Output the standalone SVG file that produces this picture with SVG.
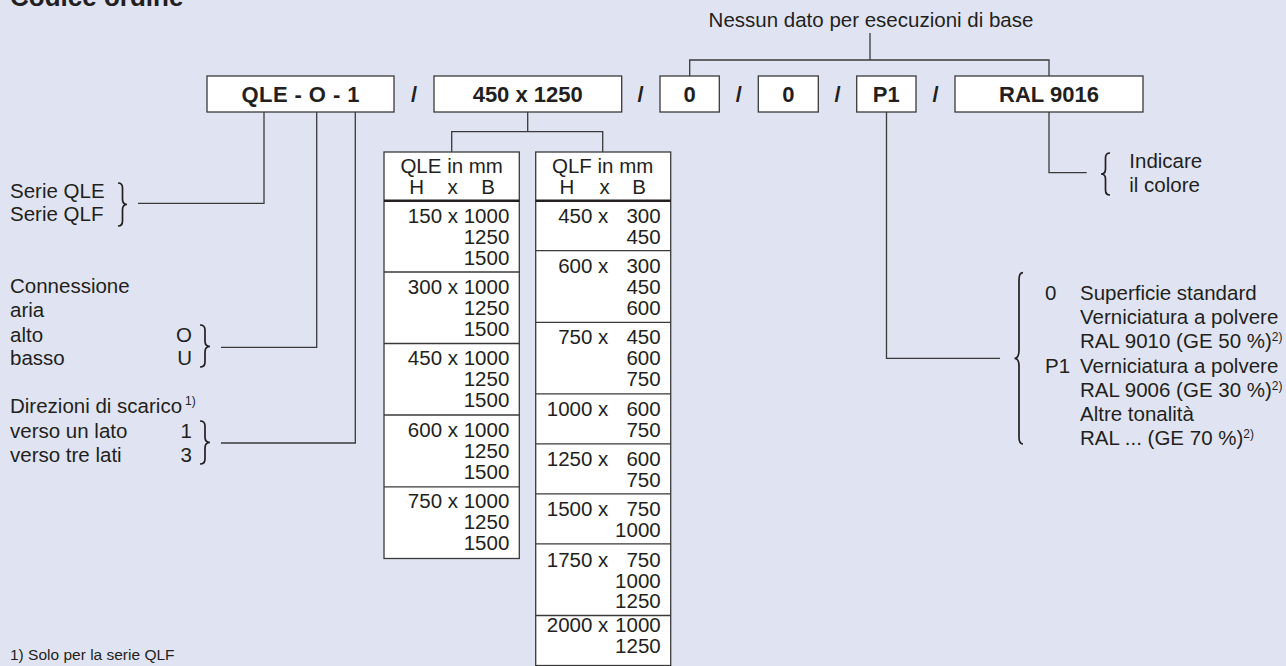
<svg xmlns="http://www.w3.org/2000/svg" width="1286" height="666" viewBox="0 0 1286 666">
<style>
text{font-family:"Liberation Sans",Arial,Helvetica,sans-serif;fill:#231f20}
.t{font-size:20.5px}
.b{font-size:22px;font-weight:bold;text-anchor:middle}
.e{text-anchor:end}
.m{text-anchor:middle}
.ln{fill:none;stroke:#3a3a3a;stroke-width:1.3}
.box{fill:#fff;stroke:#3a3a3a;stroke-width:1.3}
.sep{stroke:#3a3a3a;stroke-width:1.3}
.hsep{stroke:#231f20;stroke-width:2.4}
.br{fill:none;stroke:#231f20;stroke-width:1.7}
</style>
<rect width="1286" height="666" fill="#e0e4f2"/>
<text x="10" y="6" font-size="26" font-weight="bold">Codice ordine</text>
<text class="t m" x="871" y="27" font-size="21">Nessun dato per esecuzioni di base</text>

<g id="connectors" class="ln">
<path d="M264 112V203.3H138"/>
<path d="M316.7 112V347.3H221"/>
<path d="M355.3 112V443H221"/>
<path d="M527.7 112V131.7M451.7 152V131.7H602.7V152"/>
<path d="M870 33V60M689.7 76V60H1049V76"/>
<path d="M886.5 112V358.3H1000"/>
<path d="M1049 112V172.7H1086.7"/>
</g>

<g id="code">
<rect class="box" x="207" y="76" width="187" height="36"/>
<text class="b" x="300.5" y="102" textLength="118" lengthAdjust="spacing">QLE - O - 1</text>
<text class="b" x="414" y="102">/</text>
<rect class="box" x="434" y="76" width="187.7" height="36"/>
<text class="b" x="527.7" y="102">450 x 1250</text>
<text class="b" x="640.5" y="102">/</text>
<rect class="box" x="660" y="76" width="59.3" height="36"/>
<text class="b" x="689.7" y="102">0</text>
<text class="b" x="738.8" y="102">/</text>
<rect class="box" x="758.3" y="76" width="60" height="36"/>
<text class="b" x="788.3" y="102">0</text>
<text class="b" x="837.5" y="102">/</text>
<rect class="box" x="856.7" y="76" width="59.3" height="36"/>
<text class="b" x="886.3" y="102">P1</text>
<text class="b" x="935.5" y="102">/</text>
<rect class="box" x="955" y="76" width="188" height="36"/>
<text class="b" x="1049" y="102">RAL 9016</text>
</g>

<g id="serie">
<text class="t" x="10" y="198.3">Serie QLE</text>
<text class="t" x="10" y="221">Serie QLF</text>
<path class="br" d="M118 183Q122.5 183 122.5 188V199Q122.5 204.5 127 204.5Q122.5 204.5 122.5 210V221Q122.5 226 118 226"/>
</g>

<g id="connessione">
<text class="t" x="10" y="293.3">Connessione</text>
<text class="t" x="10" y="317">aria</text>
<text class="t" x="10" y="341.7">alto</text>
<text class="t" x="10" y="365">basso</text>
<text class="t e" x="192" y="341.7">O</text>
<text class="t e" x="192" y="365">U</text>
<path class="br" d="M200 325Q205 325 205 330V341Q205 346.5 210 346.5Q205 346.5 205 352V362Q205 367 200 367"/>
</g>

<g id="direzioni">
<text class="t" x="10" y="413.3">Direzioni di scarico<tspan font-size="12" dy="-8" dx="3">1)</tspan></text>
<text class="t" x="10" y="437.5">verso un lato</text>
<text class="t" x="10" y="461.5">verso tre lati</text>
<text class="t e" x="192" y="437.5">1</text>
<text class="t e" x="192" y="461.5">3</text>
<path class="br" d="M200 421Q205 421 205 426V437Q205 442.5 210 442.5Q205 442.5 205 448V459Q205 464 200 464"/>
</g>

<g id="table-qle">
<rect class="box" x="384" y="152" width="135.3" height="406.5"/>
<text class="t m" x="451.7" y="173.3">QLE in mm</text>
<text class="t m" x="416.7" y="194">H</text>
<text class="t m" x="452.7" y="194">x</text>
<text class="t m" x="488" y="194">B</text>
<line class="hsep" x1="384" y1="200.7" x2="519.3" y2="200.7"/>
<line class="sep" x1="384" y1="272" x2="519.3" y2="272"/>
<line class="sep" x1="384" y1="343.5" x2="519.3" y2="343.5"/>
<line class="sep" x1="384" y1="415" x2="519.3" y2="415"/>
<line class="sep" x1="384" y1="486.8" x2="519.3" y2="486.8"/>
<g class="t e">
<text x="509.3" y="222.5">150 x 1000</text>
<text x="509.3" y="243.5">1250</text>
<text x="509.3" y="264.5">1500</text>
<text x="509.3" y="293.5">300 x 1000</text>
<text x="509.3" y="314.5">1250</text>
<text x="509.3" y="335.5">1500</text>
<text x="509.3" y="365">450 x 1000</text>
<text x="509.3" y="386">1250</text>
<text x="509.3" y="407">1500</text>
<text x="509.3" y="436.5">600 x 1000</text>
<text x="509.3" y="457.5">1250</text>
<text x="509.3" y="478.5">1500</text>
<text x="509.3" y="508.3">750 x 1000</text>
<text x="509.3" y="529.3">1250</text>
<text x="509.3" y="550.3">1500</text>
</g>
</g>

<g id="table-qlf">
<rect class="box" x="535.7" y="152" width="135" height="513.5"/>
<text class="t m" x="602.7" y="173.3">QLF in mm</text>
<text class="t m" x="567" y="194">H</text>
<text class="t m" x="604.5" y="194">x</text>
<text class="t m" x="639" y="194">B</text>
<line class="hsep" x1="535.7" y1="200.7" x2="670.7" y2="200.7"/>
<line class="sep" x1="535.7" y1="250.7" x2="670.7" y2="250.7"/>
<line class="sep" x1="535.7" y1="322.3" x2="670.7" y2="322.3"/>
<line class="sep" x1="535.7" y1="393.9" x2="670.7" y2="393.9"/>
<line class="sep" x1="535.7" y1="443.9" x2="670.7" y2="443.9"/>
<line class="sep" x1="535.7" y1="493.9" x2="670.7" y2="493.9"/>
<line class="sep" x1="535.7" y1="543.9" x2="670.7" y2="543.9"/>
<line class="sep" x1="535.7" y1="615.5" x2="670.7" y2="615.5"/>
<g class="t e">
<text x="608.3" y="222.5">450 x</text>
<text x="660.7" y="222.5">300</text>
<text x="660.7" y="243.5">450</text>
<text x="608.3" y="272.5">600 x</text>
<text x="660.7" y="272.5">300</text>
<text x="660.7" y="293.5">450</text>
<text x="660.7" y="314.5">600</text>
<text x="608.3" y="344">750 x</text>
<text x="660.7" y="344">450</text>
<text x="660.7" y="365">600</text>
<text x="660.7" y="386">750</text>
<text x="608.3" y="415.6">1000 x</text>
<text x="660.7" y="415.6">600</text>
<text x="660.7" y="436.6">750</text>
<text x="608.3" y="465.6">1250 x</text>
<text x="660.7" y="465.6">600</text>
<text x="660.7" y="486.6">750</text>
<text x="608.3" y="515.6">1500 x</text>
<text x="660.7" y="515.6">750</text>
<text x="660.7" y="536.6">1000</text>
<text x="608.3" y="567">1750 x</text>
<text x="660.7" y="567">750</text>
<text x="660.7" y="587.5">1000</text>
<text x="660.7" y="608">1250</text>
<text x="608.3" y="632">2000 x</text>
<text x="660.7" y="632">1000</text>
<text x="660.7" y="652.5">1250</text>
</g>
</g>

<g id="colore">
<path class="br" d="M1110 153Q1105.5 153 1105.5 158V169Q1105.5 174 1101 174Q1105.5 174 1105.5 179V190Q1105.5 195 1110 195"/>
<text class="t" x="1129.3" y="168.3">Indicare</text>
<text class="t" x="1129.3" y="191.7">il colore</text>
</g>

<g id="superficie">
<path class="br" d="M1023 272.7Q1019 272.7 1019 280V350Q1019 358.3 1014.5 358.3Q1019 358.3 1019 366V437Q1019 444 1023 444"/>
<text class="t" x="1045" y="300">0</text>
<text class="t" x="1080" y="300">Superficie standard</text>
<text class="t" x="1080" y="324.2">Verniciatura a polvere</text>
<text class="t" x="1080" y="348.4">RAL 9010 (GE 50 %)<tspan font-size="12" dy="-7">2)</tspan></text>
<text class="t" x="1045" y="372.6">P1</text>
<text class="t" x="1080" y="372.6">Verniciatura a polvere</text>
<text class="t" x="1080" y="396.8">RAL 9006 (GE 30 %)<tspan font-size="12" dy="-7">2)</tspan></text>
<text class="t" x="1080" y="421">Altre tonalità</text>
<text class="t" x="1080" y="445.2">RAL ... (GE 70 %)<tspan font-size="12" dy="-7">2)</tspan></text>
</g>

<text x="10" y="660" font-size="15.5">1) Solo per la serie QLF</text>
</svg>
